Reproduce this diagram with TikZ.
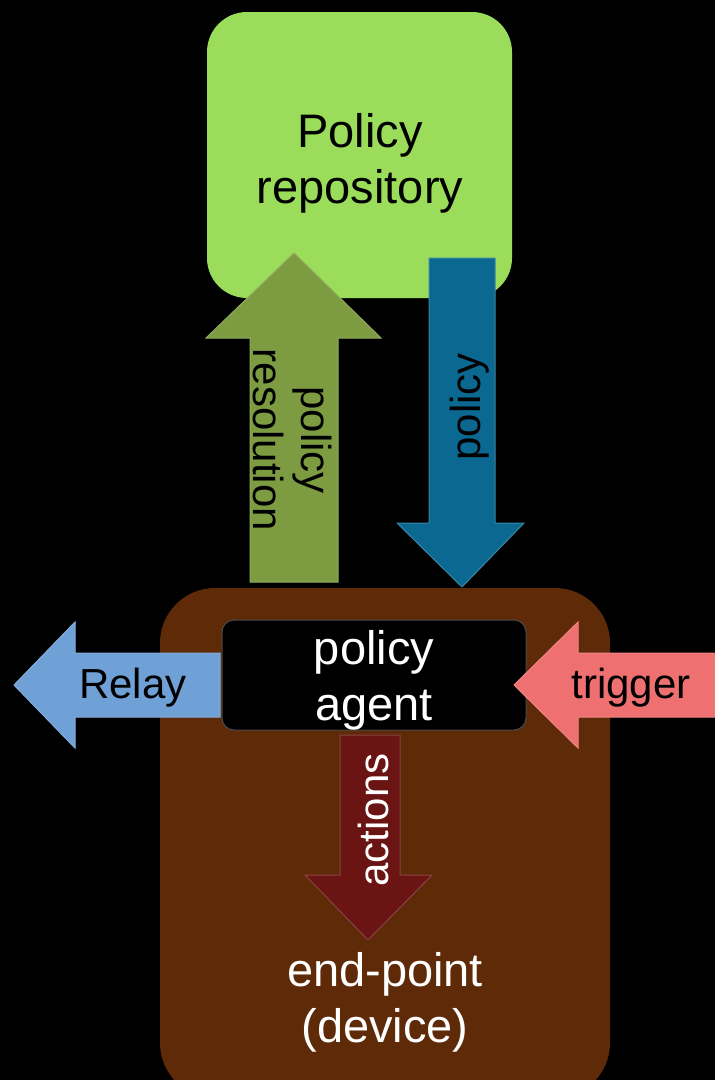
\documentclass[tikz,border=0pt]{standalone}
\usepackage{fontspec}
\setmainfont{Liberation Sans}
\definecolor{repogreen}{RGB}{155,221,91}
\definecolor{olivearrow}{RGB}{125,155,65}
\definecolor{bluearrow}{RGB}{10,104,145}
\definecolor{devbrown}{RGB}{94,42,7}
\definecolor{relayblue}{RGB}{111,160,214}
\definecolor{trigred}{RGB}{239,112,112}
\definecolor{actred}{RGB}{107,20,20}
\begin{document}
\begin{tikzpicture}[x=1pt,y=-1pt,
  big/.style={font=\fontsize{47}{56}\selectfont, align=center, inner sep=0pt},
  small/.style={font=\fontsize{42}{48}\selectfont, align=center, inner sep=0pt},
  blockarrow/.style={line width=1pt, line join=miter}
]
\fill[black] (0,0) rectangle (715,1080);
\useasboundingbox (0,0) rectangle (715,1080);
% boxes
\fill[repogreen, rounded corners=40pt] (207,12) rectangle (512,298);
\fill[devbrown, rounded corners=55pt] (160,588) rectangle (610,1098);
% policy resolution (up)
\fill[olivearrow, draw=olivearrow!85!white, blockarrow]
  (250,582) -- (250,338) -- (206,338) -- (294,253) -- (381,338) -- (338,338) -- (338,582) -- cycle;
% policy (down)
\fill[bluearrow, draw=bluearrow!80!white, blockarrow]
  (429,258) -- (429,523) -- (397,523) -- (462,587) -- (524,523) -- (495,523) -- (495,258) -- cycle;
% relay (left)
\fill[relayblue, draw=relayblue!85!white, blockarrow]
  (220,653) -- (75,653) -- (75,622) -- (14,685) -- (75,748) -- (75,717) -- (220,717) -- cycle;
% agent box
\draw[fill=black, draw=black!70!white, line width=1pt, rounded corners=12pt] (222,620) rectangle (526,730);
% trigger (left)
\fill[trigred, draw=trigred!85!white, blockarrow]
  (715,653) -- (578,653) -- (578,622) -- (514,685) -- (578,748) -- (578,717) -- (715,717) -- cycle;
% actions (down)
\fill[actred, draw=actred!80!white, blockarrow]
  (340,735) -- (340,875) -- (305,875) -- (368,940) -- (432,875) -- (400,875) -- (400,735) -- cycle;
% texts
\node[big, text=black] (repo) at (360,163) {Policy\\repository};
\node[big, text=white] (agent) at (374,680) {policy\\agent};
\node[big, text=white] (endpoint) at (385,1002) {end-point\\(device)};
\node[small, text=black] (relay) at (133,688) {Relay};
\node[small, text=black] (trigger) at (631,688) {trigger};
\node[small, text=black, rotate=-90] (resol) at (293,440) {policy\\resolution};
\node[small, text=black, rotate=90] (pol) at (470,407) {policy};
\node[small, text=white, rotate=90] (actions) at (373,820) {actions};
\end{tikzpicture}
\end{document}
